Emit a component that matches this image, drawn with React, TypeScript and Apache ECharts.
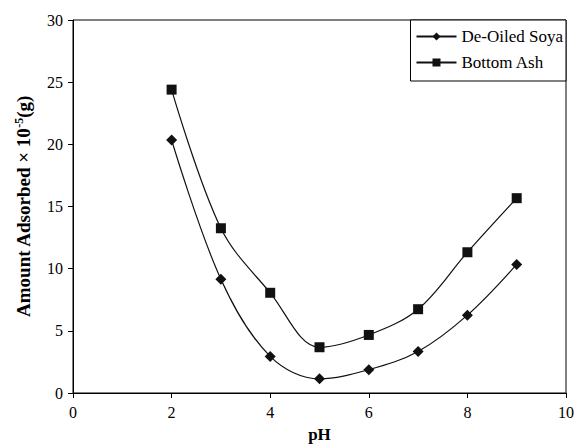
import React, { useEffect, useRef } from "react";
import * as echarts from "echarts";

const phValues = [2, 3, 4, 5, 6, 7, 8, 9];
const soya = [20.35, 9.15, 2.94, 1.14, 1.88, 3.34, 6.26, 10.34];
const bottomAsh = [24.4, 13.25, 8.06, 3.68, 4.67, 6.74, 11.32, 15.67];
const seriesNames = ["De-Oiled Soya", "Bottom Ash"];

const FONT = "Liberation Serif";

export default function App() {
  const ref = useRef<HTMLDivElement>(null);
  useEffect(() => {
    if (!ref.current) return;
    const chart = echarts.init(ref.current, null, { renderer: "svg" });
    chart.setOption({
      animation: false,
      backgroundColor: "#fff",
      textStyle: { fontFamily: FONT },
      grid: {
        left: 73,
        top: 20,
        right: 10,
        bottom: 51,
        show: true,
        borderColor: "#000",
        borderWidth: 1,
      },
      legend: {
        orient: "vertical",
        right: 11,
        top: 20,
        itemWidth: 40,
        itemHeight: 10,
        itemGap: 9,
        padding: [8, 3, 10, 5],
        backgroundColor: "#fff",
        borderColor: "#000",
        borderWidth: 1,
        borderRadius: 0,
        textStyle: { fontFamily: FONT, fontSize: 17, color: "#000" },
        data: seriesNames,
      },
      xAxis: {
        type: "value",
        min: 0,
        max: 10,
        interval: 2,
        name: "pH",
        nameLocation: "middle",
        nameGap: 33,
        nameTextStyle: { fontFamily: FONT, fontWeight: "bold", fontSize: 17, color: "#000" },
        axisLine: { lineStyle: { color: "#000", width: 1 } },
        axisTick: { show: true, inside: false, length: 5, lineStyle: { color: "#000" } },
        axisLabel: { fontFamily: FONT, fontSize: 16, color: "#000", margin: 11 },
        splitLine: { show: false },
      },
      yAxis: {
        type: "value",
        min: 0,
        max: 30,
        interval: 5,
        name: "{a|Amount Adsorbed × 10}{s|-5}{a|(g)}",
        nameLocation: "middle",
        nameGap: 40,
        nameRotate: 90,
        nameTextStyle: {
          fontFamily: FONT,
          fontWeight: "bold",
          color: "#000",
          rich: {
            a: { fontFamily: FONT, fontWeight: "bold", fontSize: 19, color: "#000", lineHeight: 20, verticalAlign: "bottom" },
            s: { fontFamily: FONT, fontWeight: "bold", fontSize: 12, color: "#000", lineHeight: 20, verticalAlign: "top" },
          },
        },
        axisLine: { show: true, lineStyle: { color: "#000", width: 1 } },
        axisTick: { show: true, inside: false, length: 5, lineStyle: { color: "#000" } },
        axisLabel: { fontFamily: FONT, fontSize: 16, color: "#000", margin: 10 },
        splitLine: { show: false },
      },
      series: [
        {
          name: seriesNames[0],
          type: "line",
          smooth: 0.35,
          data: phValues.map((x, i) => [x, soya[i]]),
          symbol: "diamond",
          symbolSize: 11,
          itemStyle: { color: "#111" },
          lineStyle: { color: "#111", width: 1.2 },
        },
        {
          name: seriesNames[1],
          type: "line",
          smooth: 0.35,
          data: phValues.map((x, i) => [x, bottomAsh[i]]),
          symbol: "rect",
          symbolSize: 10,
          itemStyle: { color: "#111" },
          lineStyle: { color: "#111", width: 1.2 },
        },
      ],
    });
    return () => chart.dispose();
  }, []);
  return (
    <div
      ref={ref}
      style={{ position: "absolute", left: 0, top: 0, width: 577, height: 448 }}
    />
  );
}
